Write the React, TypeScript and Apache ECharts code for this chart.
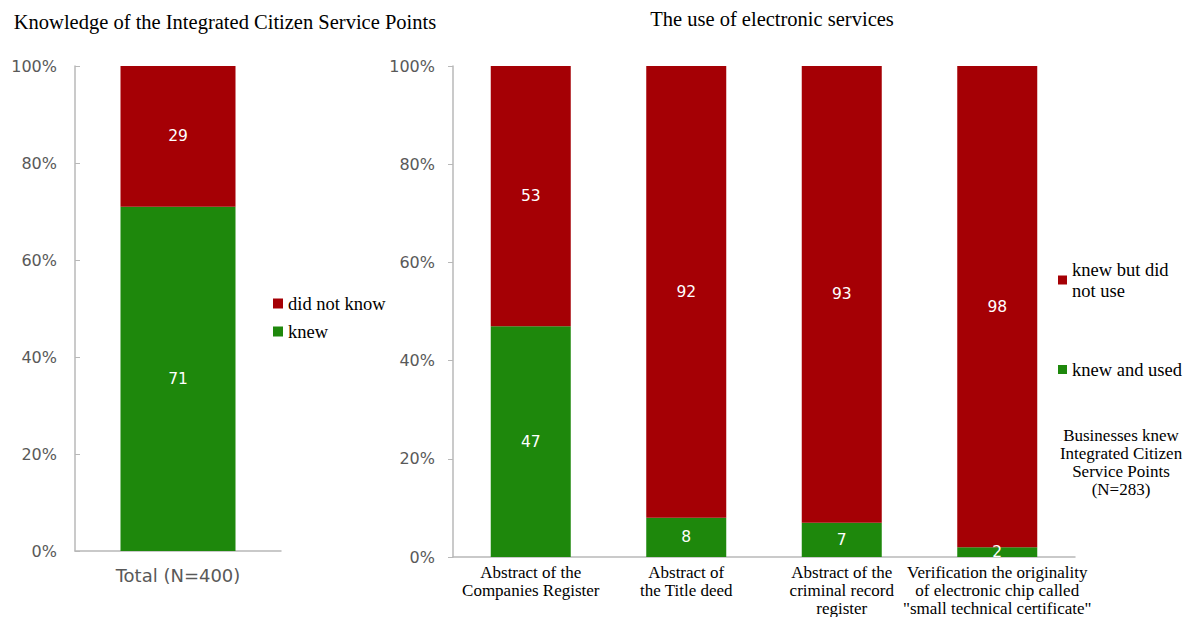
import React, { useEffect, useRef } from "react";
import * as echarts from "echarts";

const leftCategories = ["Total (N=400)"];
const leftKnew = [71];
const leftDidNotKnow = [29];

const rightCategories = [
  "Abstract of the\nCompanies Register",
  "Abstract of\nthe Title deed",
  "Abstract of the\ncriminal record\nregister",
  "Verification the originality\nof electronic chip called\n\"small technical certificate\"",
];
const knewAndUsed = [47, 8, 7, 2];
const knewNotUsed = [53, 92, 93, 98];

const yTicks = [0, 20, 40, 60, 80, 100];

const RED = "#A50005";
const GREEN = "#1E880C";
const SERIF = "'Liberation Serif', 'Times New Roman', serif";
const SANS = "'DejaVu Sans', Verdana, sans-serif";

export default function App() {
  const ref = useRef<HTMLDivElement>(null);
  useEffect(() => {
    if (!ref.current) return;
    const chart = echarts.init(ref.current, null, { renderer: "svg" });
    const yAxisBase = {
      type: "value",
      min: yTicks[0],
      max: yTicks[yTicks.length - 1],
      interval: 20,
      axisLine: { show: true, lineStyle: { color: "#b8b8b8", width: 1.5 } },
      splitLine: { show: false },
      axisLabel: {
        formatter: "{value}%",
        color: "#595959",
        fontFamily: SANS,
        fontSize: 16,
        margin: 18,
      },
    };
    const labelStyle = {
      show: true,
      position: "inside",
      color: "#ffffff",
      fontFamily: SANS,
      fontSize: 15.5,
    };
    chart.setOption({
      animation: false,
      backgroundColor: "#ffffff",
      grid: [
        { left: 75, top: 66, width: 206, height: 485 },
        { left: 453, top: 66, width: 622, height: 491 },
      ],
      xAxis: [
        {
          type: "category",
          gridIndex: 0,
          data: leftCategories,
          axisLine: { lineStyle: { color: "#b8b8b8", width: 1.5 } },
          axisTick: { show: false },
          axisLabel: { color: "#595959", fontFamily: SANS, fontSize: 18, margin: 15 },
        },
        {
          type: "category",
          gridIndex: 1,
          data: rightCategories,
          axisLine: { lineStyle: { color: "#b8b8b8", width: 1.5 } },
          axisTick: { show: false },
          axisLabel: {
            color: "#000000",
            fontFamily: SERIF,
            fontSize: 17,
            lineHeight: 18,
            margin: 6,
            interval: 0,
          },
        },
      ],
      yAxis: [
        {
          ...yAxisBase,
          gridIndex: 0,
          axisTick: { show: true, inside: true, length: 5, lineStyle: { color: "#b8b8b8" } },
        },
        {
          ...yAxisBase,
          gridIndex: 1,
          axisTick: { show: true, length: 5, lineStyle: { color: "#b8b8b8" } },
        },
      ],
      legend: [
        {
          orient: "vertical",
          left: 268,
          top: 289,
          itemWidth: 10,
          itemHeight: 10,
          itemGap: 9,
          icon: "rect",
          data: ["did not know", "knew"],
          textStyle: { fontFamily: SERIF, fontSize: 18.5, color: "#000" },
        },
        {
          orient: "vertical",
          left: 1053,
          top: 254,
          itemWidth: 9,
          itemHeight: 9,
          itemGap: 58,
          icon: "rect",
          data: ["knew but did\nnot use", "knew and used"],
          textStyle: { fontFamily: SERIF, fontSize: 18.5, color: "#000", lineHeight: 21 },
        },
      ],
      graphic: [
        {
          type: "text",
          x: 225,
          y: 22,
          style: {
            text: "Knowledge of the Integrated Citizen Service Points",
            fontFamily: SERIF,
            fontSize: 20.5,
            fill: "#000",
            textAlign: "center",
            textVerticalAlign: "middle",
          },
        },
        {
          type: "text",
          x: 772,
          y: 19,
          style: {
            text: "The use of electronic services",
            fontFamily: SERIF,
            fontSize: 20.5,
            fill: "#000",
            textAlign: "center",
            textVerticalAlign: "middle",
          },
        },
        {
          type: "text",
          x: 1121,
          y: 462,
          style: {
            text: "Businesses knew\nIntegrated Citizen\nService Points\n(N=283)",
            fontFamily: SERIF,
            fontSize: 17,
            lineHeight: 18,
            fill: "#000",
            textAlign: "center",
            textVerticalAlign: "middle",
          },
        },
      ],
      series: [
        {
          name: "knew",
          type: "bar",
          xAxisIndex: 0,
          yAxisIndex: 0,
          stack: "left",
          barWidth: 115,
          data: leftKnew,
          itemStyle: { color: GREEN },
          label: labelStyle,
        },
        {
          name: "did not know",
          type: "bar",
          xAxisIndex: 0,
          yAxisIndex: 0,
          stack: "left",
          barWidth: 115,
          data: leftDidNotKnow,
          itemStyle: { color: RED },
          label: labelStyle,
        },
        {
          name: "knew and used",
          type: "bar",
          xAxisIndex: 1,
          yAxisIndex: 1,
          stack: "right",
          barWidth: 80,
          data: knewAndUsed,
          itemStyle: { color: GREEN },
          label: labelStyle,
        },
        {
          name: "knew but did\nnot use",
          type: "bar",
          xAxisIndex: 1,
          yAxisIndex: 1,
          stack: "right",
          barWidth: 80,
          data: knewNotUsed,
          itemStyle: { color: RED },
          label: labelStyle,
        },
      ],
    });
    return () => chart.dispose();
  }, []);
  return (
    <div
      ref={ref}
      style={{ position: "fixed", left: 0, top: 0, width: 1190, height: 617, background: "#fff" }}
    />
  );
}
